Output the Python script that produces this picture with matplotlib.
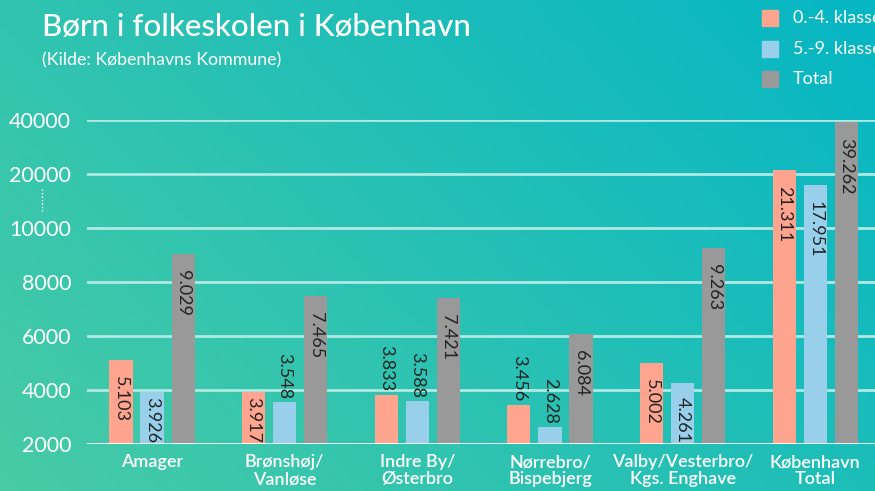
import numpy as np
import matplotlib.pyplot as plt
from matplotlib.patches import Rectangle
from matplotlib.lines import Line2D

plt.rcParams['font.family'] = ['Lato', 'DejaVu Sans']

# data
categories = ['Amager', 'Brønshøj/\nVanløse', 'Indre By/\nØsterbro', 'Nørrebro/\nBispebjerg',
              'Valby/Vesterbro/\nKgs. Enghave', 'København\nTotal']
klasse_0_4 = [5103, 3917, 3833, 3456, 5002, 21311]
klasse_5_9 = [3926, 3548, 3588, 2628, 4261, 17951]
total = [9029, 7465, 7421, 6084, 9263, 39262]
series_names = ['0.-4. klasse', '5.-9. klasse', 'Total']
yticks = [2000, 4000, 6000, 8000, 10000, 20000, 40000]

colors = ['#FFA48F', '#98D0EC', '#999999']

W, H = 875, 491
fig = plt.figure(figsize=(W / 100, H / 100), dpi=100)

# gradient background, green bottom-left -> teal top-right
bg = fig.add_axes([0, 0, 1, 1], zorder=-10)
gx, gy = np.meshgrid(np.linspace(0, 1, 200), np.linspace(0, 1, 120))
t = 0.65 * gx + 0.35 * (1 - gy)   # row 0 is the top
c_bl = np.array([0x48, 0xCB, 0xA5]) / 255
c_tr = np.array([0x05, 0xB6, 0xC4]) / 255
img = c_bl[None, None, :] * (1 - t[..., None]) + c_tr[None, None, :] * t[..., None]
bg.imshow(img, extent=[0, 1, 0, 1], aspect='auto', origin='upper')
bg.axis('off')

# piecewise axis: equal spacing between the ticks
tk = [0] + yticks + [80000]
ix = list(range(-1, len(yticks) + 1))
fwd = lambda v: np.interp(v, tk, ix)
inv = lambda v: np.interp(v, ix, tk)

ax = fig.add_axes([87 / W, (H - 444) / H, 1 - 87 / W, (444 - 120) / H])
ax.patch.set_alpha(0)
ax.set_yscale('function', functions=(fwd, inv))
ax.set_ylim(2000, 40000)
ax.set_xlim(-0.49, 5.45)
for s in ax.spines.values():
    s.set_visible(False)
ax.set_yticks(yticks)
ax.set_yticklabels([str(v) for v in yticks], color='white', fontsize=15.5)
ax.tick_params(axis='y', length=0, pad=11.5)
for v in yticks[1:]:
    ax.axhline(v, color='#B0E9E3', lw=2, zorder=0)
ax.axhline(2000, color='white', lw=2, zorder=3)

x = np.arange(len(categories))
bw = 0.174
off = 0.234
series = [klasse_0_4, klasse_5_9, total]
fig.canvas.draw()
for k, vals in enumerate(series):
    xs = x + (k - 1) * off
    ax.bar(xs, np.array(vals) - 2000, bottom=2000, width=bw, color=colors[k], zorder=2)
    for xi, v in zip(xs, vals):
        lab = f'{v:,}'.replace(',', '.')
        hpx = ax.transData.transform((0, v))[1] - ax.transData.transform((0, 2000))[1]
        if hpx > 50:
            d = min(16, hpx - 47)
            ax.annotate(lab, (xi, v), xytext=(0, -d * 0.72), textcoords='offset points',
                        rotation=-90, ha='center', va='top', fontsize=13, color='#222222', zorder=4)
        else:
            ax.annotate(lab, (xi, v), xytext=(0, 2.5), textcoords='offset points',
                        rotation=-90, ha='center', va='bottom', fontsize=13, color='#222222', zorder=4)

ax.set_xticks(x)
ax.set_xticklabels(categories, color='white', fontsize=13, fontweight='semibold', linespacing=1.05)
ax.tick_params(axis='x', length=0, pad=7.5)

# axis break mark
fig.add_artist(Line2D([42 / W, 42 / W], [1 - 189 / H, 1 - 211 / H], color='white', lw=1,
                      linestyle=(0, (1, 1.5))))

# title
fig.text(42 / W, 1 - 27 / H, 'Børn i folkeskolen i København', color='white', fontsize=22.5,
         fontweight='medium', va='center')
fig.text(42 / W, 1 - 60 / H, '(Kilde: Københavns Kommune)', color='white', fontsize=12.8, va='center')

# legend (cut by the right edge as in the original)
for k, name in enumerate(series_names):
    yc = 18 + k * 30.5
    fig.add_artist(Rectangle((762 / W, 1 - (yc + 8) / H), 16 / W, 16 / H, color=colors[k],
                             transform=fig.transFigure))
    fig.text(793 / W, 1 - yc / H, name, color='white', fontsize=13, va='center')

fig.savefig('out.png', dpi=100)
